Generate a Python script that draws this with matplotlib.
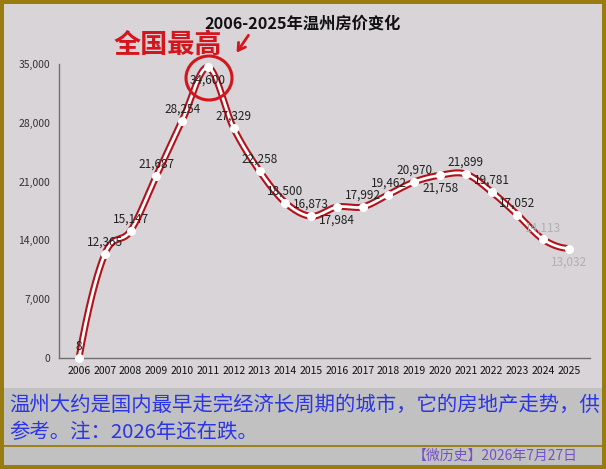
import numpy as np
import matplotlib
matplotlib.use("Agg")
import matplotlib.pyplot as plt
from matplotlib.patches import Rectangle, Ellipse, FancyArrowPatch

plt.rcParams['font.family'] = ['Noto Sans CJK SC', 'DejaVu Sans']

years = list(range(2006, 2026))
prices = [8, 12365, 15147, 21687, 28254, 34600, 27329, 22258, 18500, 16873,
          17984, 17992, 19462, 20970, 21758, 21899, 19781, 17052, 14113, 13032]
labels = ["8", "12,365", "15,147", "21,687", "28,254", "34,600", "27,329", "22,258",
          "18,500", "16,873", "17,984", "17,992", "19,462", "20,970", "21,758",
          "21,899", "19,781", "17,052", "14,113", "13,032"]
below = {2011, 2016, 2020, 2025}
faded = {2024, 2025}
yticks = [0, 7000, 14000, 21000, 28000, 35000]

title = "2006-2025年温州房价变化"
note = "全国最高"
caption = ["温州大约是国内最早走完经济长周期的城市，它的房地产走势，供",
           "参考。注：2026年还在跌。"]
footer = "【微历史】2026年7月27日"

W, H = 606, 469
fig = plt.figure(figsize=(W / 100, H / 100), dpi=100, facecolor="#9a7b10")

def fx(px):
    return px / W

def fy(py):
    return 1 - py / H

# backgrounds
fig.patches.append(Rectangle((fx(4), fy(388)), fx(598), 384 / H, transform=fig.transFigure,
                             facecolor="#d8d4d8", edgecolor="none", zorder=-2))
fig.patches.append(Rectangle((fx(4), fy(465)), fx(598), 77 / H, transform=fig.transFigure,
                             facecolor="#c1c1c1", edgecolor="none", zorder=-2))
fig.lines.append(plt.Line2D([fx(4), fx(602)], [fy(446), fy(446)], transform=fig.transFigure,
                            color="#9a7b10", lw=1.3, zorder=-1))

ax = fig.add_axes([fx(59), fy(358), fx(590 - 59), (358 - 64) / H])
ax.set_facecolor("none")

# smooth curve (cubic Hermite, Catmull-Rom tangents, parabolic ends)
x = np.array(years, dtype=float)
y = np.array(prices, dtype=float)
m = np.gradient(y, x)
m[0] = 2 * (y[1] - y[0]) - m[1]
m[-1] = 2 * (y[-1] - y[-2]) - m[-2]
xs, ys = [], []
for i in range(len(x) - 1):
    t = np.linspace(0, 1, 40)
    h00 = 2 * t**3 - 3 * t**2 + 1
    h10 = t**3 - 2 * t**2 + t
    h01 = -2 * t**3 + 3 * t**2
    h11 = t**3 - t**2
    xs.append(x[i] + t)
    ys.append(h00 * y[i] + h10 * m[i] + h01 * y[i + 1] + h11 * m[i + 1])
xs = np.concatenate(xs)
ys = np.concatenate(ys)

ax.plot(xs, ys, color="#b3121b", lw=5, solid_capstyle="round", zorder=2, clip_on=False)
ax.plot(xs, ys, color="white", lw=2, zorder=3, clip_on=False)
ax.plot(years, prices, "o", color="white", ms=5.5, mec="white", zorder=4, clip_on=False)

for yr, v, lab in zip(years, prices, labels):
    dy = -9.5 if yr in below else 8.5
    col = "#b0b0b0" if yr in faded else "#222222"
    ax.annotate(lab, (yr, v), xytext=(0, dy), textcoords="offset points",
                ha="center", va="center", fontsize=8.5, color=col, zorder=5)

ax.set_xlim(2006 - 20 / 25.79, 2025 + 21 / 25.79)
ax.set_ylim(0, 35000)
ax.set_xticks(years)
ax.set_xticklabels([str(v) for v in years], fontsize=7.5, color="#111111",
                   fontweight="medium")
ax.set_yticks(yticks)
ax.set_yticklabels([f"{v:,}" for v in yticks], fontsize=7.5, color="#333333")
ax.tick_params(length=0, pad=6)
ax.tick_params(axis="y", pad=6.5)
for s in ["top", "right"]:
    ax.spines[s].set_visible(False)
for s in ["left", "bottom"]:
    ax.spines[s].set_color("#707070")
    ax.spines[s].set_linewidth(1)

# title and annotation
fig.text(fx(303), fy(24), title, ha="center", va="center", fontsize=11.7,
         fontweight="bold", color="#111111")
fig.text(fx(168), fy(45), note, ha="center", va="center", fontsize=19.5,
         fontweight="bold", color="#d4161c")
fig.patches.append(Ellipse((fx(209), fy(78)), fx(46), 44 / H, transform=fig.transFigure,
                           facecolor="none", edgecolor="#d4161c", lw=2.2, zorder=6))
fig.patches.append(FancyArrowPatch((fx(250), fy(33)), (fx(235), fy(55)),
                                   transform=fig.transFigure, arrowstyle="->,head_length=5,head_width=3",
                                   color="#d4161c", lw=2, zorder=6))

# caption
fig.text(fx(9), fy(405), caption[0], ha="left", va="center", fontsize=14.7, color="#2b35e6")
fig.text(fx(9), fy(432), caption[1], ha="left", va="center", fontsize=14.7, color="#2b35e6")
fig.text(fx(578), fy(456), footer, ha="right", va="center", fontsize=10, color="#7650c8")

fig.savefig("out.png", dpi=100, facecolor=fig.get_facecolor())
